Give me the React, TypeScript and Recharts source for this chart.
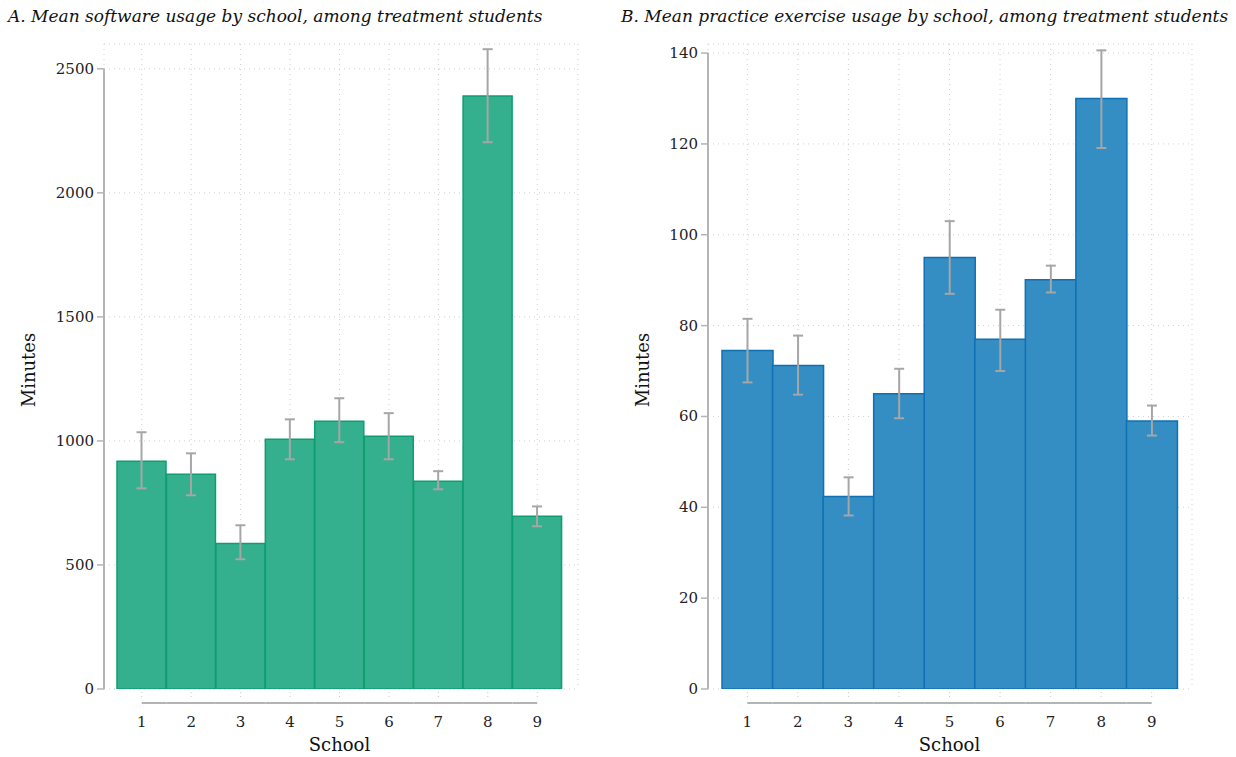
import React from "react";
import { BarChart, Bar, ErrorBar, XAxis, YAxis, CartesianGrid } from "recharts";

const schools = ["1", "2", "3", "4", "5", "6", "7", "8", "9"];

// Panel A: software minutes (mean, lower CI, upper CI)
const softwareMean = [918, 866, 587, 1007, 1079, 1019, 837, 2390, 696];
const softwareLo = [809, 781, 523, 926, 995, 926, 805, 2204, 656];
const softwareHi = [1035, 950, 660, 1087, 1172, 1112, 878, 2579, 736];
const softwareTicks = [0, 500, 1000, 1500, 2000, 2500];

// Panel B: practice exercise minutes
const practiceMean = [74.5, 71.2, 42.4, 65, 95, 77, 90.1, 130, 59];
const practiceLo = [67.5, 64.8, 38.2, 59.6, 87, 70, 87.3, 119.1, 55.8];
const practiceHi = [81.5, 77.8, 46.6, 70.5, 103, 83.5, 93.2, 140.6, 62.4];
const practiceTicks = [0, 20, 40, 60, 80, 100, 120, 140];

const FONT = "'DejaVu Serif', serif";
const AXIS = "#b4b4b4";
const W = 618;
const H = 757;
const TOP = 44;
const BOTTOM = 68;

function buildRows(mean: number[], lo: number[], hi: number[]) {
  return schools.map((s, i) => ({
    school: s,
    mean: mean[i],
    err: [mean[i] - lo[i], hi[i] - mean[i]],
  }));
}

type PanelProps = {
  left: number;
  title: string;
  titleLeft: number;
  rows: { school: string; mean: number; err: number[] }[];
  ticks: number[];
  yMax: number;
  fill: string;
  stroke: string;
  yAxisWidth: number;
  padL: number;
  padR: number;
  marginRight: number;
  labelX: number;
};

function Panel(p: PanelProps) {
  const plotH = H - TOP - BOTTOM;
  const plotW = W - p.yAxisWidth - p.marginRight;
  const band = (plotW - p.padL - p.padR) / p.rows.length;
  const tickGap = ((p.ticks[1] - p.ticks[0]) * plotH) / p.yMax;
  const last = p.rows.length - 1;

  const YTick = (props: any) => {
    const { x, y, payload } = props;
    return (
      <g>
        {payload.value !== 0 && (
          <line x1={x} x2={x} y1={y} y2={y + tickGap} stroke={AXIS} strokeWidth={2} />
        )}
        <line x1={x - 7} x2={x} y1={y} y2={y} stroke={AXIS} strokeWidth={1.5} />
        <text x={x - 10} y={y} dy={5} textAnchor="end" fontFamily={FONT} fontSize={15} fill="#222">
          {payload.value}
        </text>
      </g>
    );
  };

  const XTick = (props: any) => {
    const { x, y, payload, index } = props;
    return (
      <g>
        <line x1={x} x2={x} y1={y + 3} y2={y + 11} stroke="#c8c8c8" strokeDasharray="1 3" />
        <line
          x1={index === 0 ? x : x - band / 2}
          x2={index === last ? x : x + band / 2}
          y1={y + 14}
          y2={y + 14}
          stroke={AXIS}
          strokeWidth={2}
        />
        <text x={x} y={y + 38} textAnchor="middle" fontFamily={FONT} fontSize={15} fill="#222">
          {payload.value}
        </text>
      </g>
    );
  };

  return (
    <div style={{ position: "absolute", left: p.left, top: 0, width: W, height: H }}>
      <BarChart
        width={W}
        height={H}
        data={p.rows}
        margin={{ top: TOP, right: p.marginRight, left: 0, bottom: BOTTOM - 50 }}
        barCategoryGap={0}
        barGap={0}
      >
        <CartesianGrid stroke="#cfcfcf" strokeDasharray="1 4" />
        <XAxis
          dataKey="school"
          height={50}
          interval={0}
          axisLine={false}
          tickLine={false}
          tickSize={0}
          tickMargin={0}
          padding={{ left: p.padL, right: p.padR }}
          tick={XTick}
        />
        <YAxis
          width={p.yAxisWidth}
          domain={[0, p.yMax]}
          ticks={p.ticks}
          allowDataOverflow
          axisLine={false}
          tickLine={false}
          tickSize={0}
          tickMargin={0}
          tick={YTick}
        />
        <Bar dataKey="mean" fill={p.fill} stroke={p.stroke} strokeWidth={1.5} isAnimationActive={false}>
          <ErrorBar dataKey="err" direction="y" width={5} stroke="#a6a6a6" strokeWidth={2} isAnimationActive={false} />
        </Bar>
      </BarChart>
      <div
        style={{
          position: "absolute",
          left: p.titleLeft,
          top: 6,
          fontFamily: FONT,
          fontStyle: "italic",
          fontSize: 17,
          color: "#111",
          whiteSpace: "nowrap",
        }}
      >
        {p.title}
      </div>
      <div
        style={{
          position: "absolute",
          left: p.labelX,
          top: 370,
          transform: "translate(-50%, -50%) rotate(-90deg)",
          fontFamily: FONT,
          fontSize: 18,
          color: "#111",
        }}
      >
        Minutes
      </div>
      <div
        style={{
          position: "absolute",
          left: p.yAxisWidth + p.padL + band * p.rows.length / 2,
          top: 744,
          transform: "translate(-50%, -50%)",
          fontFamily: FONT,
          fontSize: 18,
          color: "#111",
        }}
      >
        School
      </div>
    </div>
  );
}

export default function App() {
  return (
    <div style={{ position: "fixed", left: 0, top: 0, width: 1236, height: 757, background: "#fff", overflow: "hidden" }}>
      <Panel
        left={0}
        title="A. Mean software usage by school, among treatment students"
        titleLeft={8}
        rows={buildRows(softwareMean, softwareLo, softwareHi)}
        ticks={softwareTicks}
        yMax={2600}
        fill="#34b08e"
        stroke="#0e9d70"
        yAxisWidth={104}
        padL={13}
        padR={16}
        marginRight={40}
        labelX={28}
      />
      <Panel
        left={618}
        title="B. Mean practice exercise usage by school, among treatment students"
        titleLeft={3}
        rows={buildRows(practiceMean, practiceLo, practiceHi)}
        ticks={practiceTicks}
        yMax={142}
        fill="#348dc3"
        stroke="#0f70b3"
        yAxisWidth={90}
        padL={14}
        padR={15}
        marginRight={44}
        labelX={24}
      />
    </div>
  );
}
